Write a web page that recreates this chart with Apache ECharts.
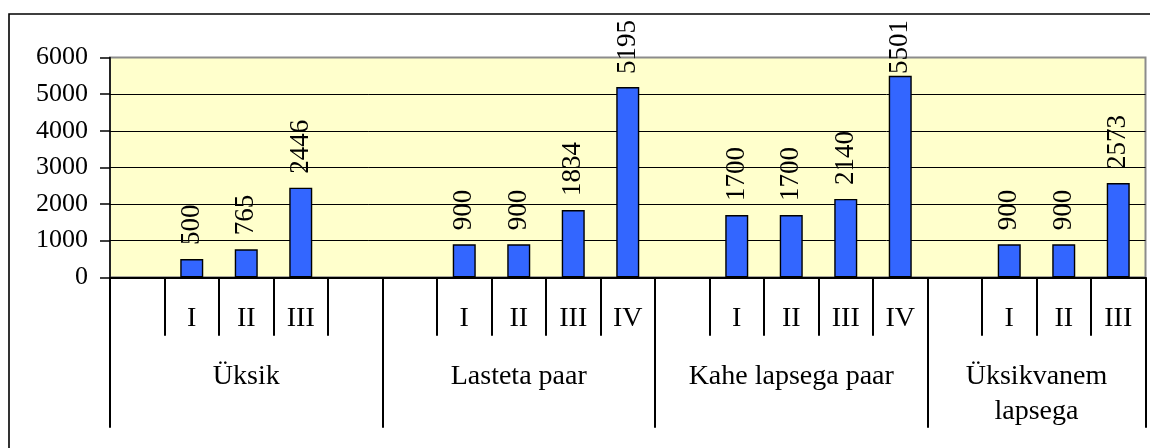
<!DOCTYPE html>
<html>
<head>
<meta charset="utf-8">
<script src="https://cdn.jsdelivr.net/npm/echarts@6/dist/echarts.min.js"></script>
<style>
  html, body { margin: 0; padding: 0; background: #fff; }
  #chart { width: 1150px; height: 448px; }
</style>
</head>
<body>
<div id="chart"></div>
<script>
// Slots along the category axis (empty slots separate the household types)
var slotLabels = ['', 'I', 'II', 'III', '',
                  '', 'I', 'II', 'III', 'IV',
                  '', 'I', 'II', 'III', 'IV',
                  '', 'I', 'II', 'III'];
var slotValues = [null, 500, 765, 2446, null,
                  null, 900, 900, 1834, 5195,
                  null, 1700, 1700, 2140, 5501,
                  null, 900, 900, 2573];
// Household types and how many slots each one spans
var groupNames = ['Üksik', 'Lasteta paar', 'Kahe lapsega paar', 'Üksikvanem\nlapsega'];
var groupSpans = [5, 5, 5, 4];
var yTicks = [0, 1000, 2000, 3000, 4000, 5000, 6000];

var FONT = "'Liberation Serif', 'Times New Roman', serif";
var LABEL_SIZE = 27;
var LABEL_GAP = 14;
var FRAME_TOP = 20;   // value labels must not rise above this line

// Group boundaries and centres in slot units
var boundaries = [0], centres = [], acc = 0;
groupSpans.forEach(function (s) {
  centres.push(acc + s / 2);
  acc += s;
  boundaries.push(acc);
});
var nameAt = {};
centres.forEach(function (c, i) { nameAt[c] = groupNames[i]; });

var chart = echarts.init(document.getElementById('chart'), null, { renderer: 'canvas' });

var labelStyle = {
  show: true,
  position: 'top',
  distance: LABEL_GAP,
  rotate: 90,
  align: 'left',
  verticalAlign: 'middle',
  color: '#000',
  fontSize: LABEL_SIZE,
  fontFamily: FONT
};

chart.setOption({
  animation: false,
  backgroundColor: '#ffffff',
  textStyle: { fontFamily: FONT },
  graphic: [{
    type: 'rect',
    shape: { x: 9, y: 14, width: 1160, height: 460 },
    style: { fill: 'none', stroke: '#000', lineWidth: 1.6 },
    silent: true,
    z: 100
  }],
  grid: {
    left: 110, right: 4.5, top: 57.5, bottom: 170.7,
    show: true,
    backgroundColor: '#FFFFCC',
    borderColor: '#8c8c8c',
    borderWidth: 2
  },
  yAxis: {
    type: 'value',
    min: yTicks[0],
    max: yTicks[yTicks.length - 1],
    interval: yTicks[1] - yTicks[0],
    axisLine: { show: true, lineStyle: { color: '#000', width: 1.5 } },
    axisTick: { show: true, length: 10, lineStyle: { color: '#000', width: 1.5 } },
    axisLabel: { color: '#000', fontSize: 26, fontFamily: FONT, margin: 22,
                 formatter: function (v) { return String(v); } },
    splitLine: { show: true, showMaxLine: false, lineStyle: { color: '#000', width: 1 } }
  },
  xAxis: [{
    type: 'category',
    data: slotLabels,
    boundaryGap: true,
    position: 'bottom',
    axisLine: { show: true, lineStyle: { color: '#000', width: 2 } },
    axisTick: { show: true, interval: 0, alignWithLabel: false, length: 58.4,
                lineStyle: { color: '#000', width: 2 } },
    axisLabel: { interval: 0, color: '#000', fontSize: 28, fontFamily: FONT, margin: 27 }
  }, {
    type: 'value',
    min: 0,
    max: slotLabels.length,
    position: 'bottom',
    axisLine: { show: false },
    splitLine: { show: false },
    axisTick: { show: true, customValues: boundaries, length: 150.4,
                lineStyle: { color: '#000', width: 2 } },
    axisLabel: {
      customValues: centres,
      color: '#000', fontSize: 28, fontFamily: FONT, lineHeight: 35, margin: 82,
      formatter: function (v) { return nameAt[v] || ''; }
    }
  }],
  series: [{
    type: 'bar',
    xAxisIndex: 0,
    data: slotValues,
    barWidth: 23,
    itemStyle: { color: '#3366FF', borderColor: '#000', borderWidth: 1.4 },
    label: labelStyle
  }]
});

// Pull down any value label that would run past the top of the frame
var ctx = document.createElement('canvas').getContext('2d');
ctx.font = LABEL_SIZE + 'px ' + FONT;
var items = slotValues.map(function (v) {
  if (v == null) return v;
  var barTop = chart.convertToPixel({ yAxisIndex: 0 }, v);
  var textLen = ctx.measureText(String(v)).width;
  var room = barTop - FRAME_TOP - textLen;
  if (room >= LABEL_GAP) return v;
  return { value: v, label: { distance: Math.max(0, room) } };
});
chart.setOption({ series: [{ data: items }] });
</script>
</body>
</html>
